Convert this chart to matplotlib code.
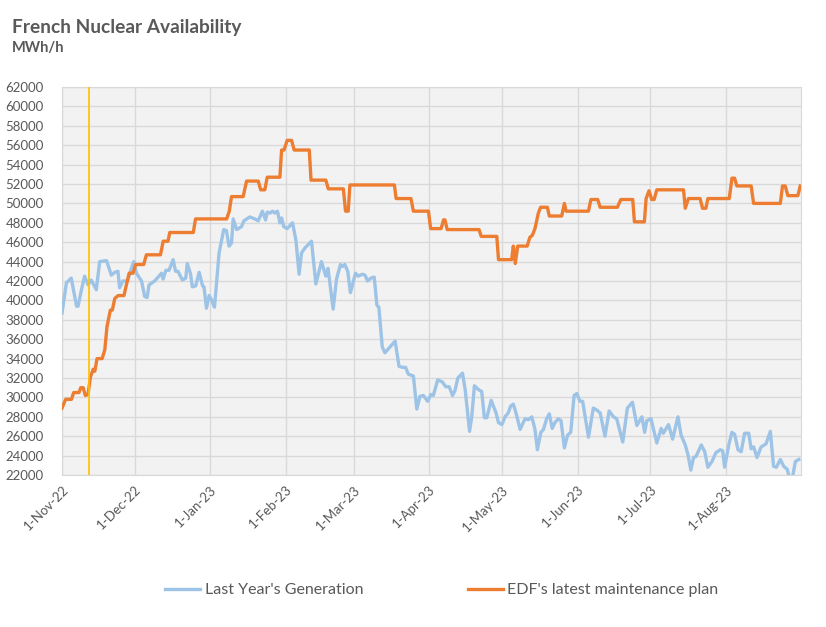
import pandas as pd
import numpy as np
import matplotlib.pyplot as plt
import matplotlib.dates as mdates

# --- datos (dias desde 1-Nov-22, MWh/h) ---
inicio = pd.Timestamp('2022-11-01')

dias_gen = [0, 1.8, 3.8, 6, 6.6, 8, 9.3, 10.7, 12, 14.1, 15.5, 18.3, 20.3, 21.7, 23, 23.7, 25, 27, 27.9,
            29.5, 30.6, 32.7, 34, 35, 35.8, 38.1, 40.2, 40.9, 41.6, 42.7, 44, 45.7, 46.7, 47.7, 49.5, 50.9,
            51.5, 52.8, 53.6, 55, 56.4, 57.8, 58.4, 59.4, 60.5, 61.6, 62.7, 64.6, 66.5, 67.6, 68.7, 69.7,
            70.4, 71.8, 73.8, 74.8, 77.2, 79.3, 80.7, 82.4, 83.7, 84.4, 85.5, 86.6, 87.5, 88.6, 89.6, 90.3,
            91.2, 92.6, 94.8, 96.2, 97.5, 98.5, 99.9, 102.6, 104.4, 106.7, 108.5, 109.4, 111.5, 112.9,
            114.5, 115.4, 116.3, 117.5, 118.6, 120.7, 121.8, 123.5, 124.6, 125.7, 127.0, 128.4, 129.5,
            130.3, 131.7, 132.8, 134.9, 137.0, 138.6, 140, 141.3, 142.4, 144.5, 145.9, 147.2, 148.6,
            150.4, 151.7, 152.7, 154.5, 156.4, 157.8, 159.2, 160.6, 161.6, 162.8, 164.7, 165.8, 167.6,
            168.5, 169.6, 171.3, 172.6, 173.7, 174.7, 176.5, 178.5, 179.5, 180.9, 182.2, 183.5, 184.5,
            185.6, 186.7, 188.4, 190.4, 191.8, 193.2, 194.5, 195.5, 196.9, 198, 199.3, 200.4, 201.6,
            202.7, 204.1, 205.2, 206.6, 207.9, 209.2, 210.6, 211.7, 213.0, 214.1, 216.5, 218.5, 219.9,
            221.3, 223.3, 225, 226.8, 228.1, 230.6, 232.5, 234.6, 236.4, 238.5, 239.6, 240.5, 242.2,
            244.6, 246.4, 247.3, 249.4, 251.1, 253.3, 254.6, 256.3, 257.4, 258.6, 259.7, 260.7, 262.9,
            264.3, 265.6, 267.3, 268.9, 270.7, 271.7, 272.5, 274.2, 275.5, 276.6, 278, 279.3, 280.7,
            282.4, 283.4, 284.4, 285.8, 287.5, 289.5, 291.3, 292.6, 293.8, 295.4, 296.8, 298.2, 299.1,
            300.2, 301.6, 303]
gen = [38700, 41800, 42300, 39400, 39400, 41100, 42500, 41600, 42100, 41100, 44000, 44100, 42600, 42900,
       43000, 41300, 42000, 42000, 42800, 44000, 42800, 42000, 40400, 40300, 41600, 42000, 42600, 42800,
       42200, 43100, 43100, 44200, 43000, 43000, 42100, 42300, 43800, 42800, 41400, 41500, 42900, 41500,
       41400, 39200, 40500, 40000, 39300, 44900, 47300, 47200, 45600, 45900, 48400, 47300, 47600, 48200,
       48600, 48400, 48200, 49200, 48300, 49100, 49000, 49200, 49000, 49200, 48000, 48500, 47600, 47400,
       48000, 46200, 42700, 44900, 45400, 46100, 41700, 44000, 42500, 43300, 39100, 42200, 43700, 43500,
       43700, 43000, 40800, 42800, 42500, 42700, 42600, 42000, 42300, 42400, 39500, 39300, 35200, 34600,
       35200, 35800, 33200, 33100, 33100, 32400, 32200, 28800, 30100, 30200, 29600, 30300, 30200, 31800,
       31600, 31100, 31100, 30200, 30700, 32000, 32500, 30800, 26500, 28000, 31200, 30800, 30600, 27900,
       27900, 29700, 28400, 27400, 27200, 28000, 28400, 29100, 29300, 28400, 26700, 27800, 27700, 28000,
       26700, 24600, 26400, 26700, 27800, 28300, 26800, 27400, 27800, 27600, 24800, 26100, 26400, 30200,
       30400, 29600, 29600, 25900, 28900, 28700, 28400, 26000, 28600, 28000, 27800, 25400, 28900, 29500,
       27100, 28000, 26400, 27600, 27800, 25300, 26800, 26300, 27200, 25700, 28000, 26100, 25100, 24100,
       22500, 23800, 23900, 25100, 24400, 22800, 23400, 24300, 24600, 24500, 22800, 25100, 26400, 26200,
       24600, 24400, 26300, 26300, 24700, 24900, 23800, 24900, 25200, 26500, 22900, 22800, 23600, 22900,
       22600, 21800, 21500, 23400, 23600]

dias_plan = [0, 1.5, 3.9, 4.8, 7.0, 7.7, 8.7, 9.6, 10.7, 11.7, 12.8, 13.5, 14.4, 16.5, 17.6, 18.5, 19.9,
             20.7, 21.7, 23.1, 25.5, 26.2, 27.6, 29.2, 30.3, 33.6, 34.7, 40.5, 41.6, 43.6, 44.3, 54.0,
             54.9, 67.7, 68.8, 69.7, 74.5, 75.9, 80.7, 81.7, 83.4, 84.4, 89.6, 90.3, 91.3, 92.6, 94.4,
             95.5, 101.7, 102.4, 108.5, 109.5, 115.7, 116.6, 117.7, 118.4, 136.7, 137.4, 143.5, 144.5,
             150.7, 151.6, 155.9, 156.9, 157.5, 158.4, 171.5, 172.4, 178.8, 179.5, 184.9, 185.6, 186.4,
             187.4, 191.3, 192.4, 193.4, 194.5, 195.9, 196.8, 199.6, 200.4, 205.5, 206.6, 207.3, 216.5,
             217.5, 220.3, 221.3, 228.4, 229.8, 234.7, 235.4, 239.5, 240.2, 241.4, 242.5, 243.5, 244.6,
             255.6, 256.3, 257.6, 262.4, 263.4, 264.8, 265.6, 274.4, 275.5, 276.6, 277.5, 283.4, 284.4,
             295.4, 296.3, 297.4, 298.5, 302.6, 303.6]
plan = [28900, 29800, 29800, 30500, 30500, 31000, 31000, 30200, 30300, 32100, 32900, 32700, 34000, 34000,
        34900, 37300, 39000, 39000, 40200, 40500, 40500, 41300, 42800, 42800, 43700, 43700, 44700, 44700,
        46100, 46100, 47000, 47000, 48400, 48400, 49200, 50700, 50700, 52300, 52300, 51400, 51400, 52700,
        52700, 55500, 55500, 56500, 56500, 55500, 55500, 52400, 52400, 51500, 51500, 49200, 49200, 51900,
        51900, 50500, 50500, 49200, 49200, 47400, 47400, 48300, 48300, 47300, 47300, 46600, 46600, 44200,
        44200, 45600, 43800, 45600, 45600, 46500, 46700, 47400, 49000, 49600, 49600, 48700, 48700, 50000,
        49200, 49200, 50400, 50400, 49600, 49600, 50400, 50400, 48100, 48100, 50500, 51300, 50400, 50400,
        51400, 51400, 49500, 50500, 50500, 49500, 49500, 50500, 50500, 52600, 52600, 51800, 51800, 50000,
        50000, 51800, 51800, 50800, 50800, 51800]

dia_marca = 11  # linea amarilla (12-Nov-22)
meses = pd.date_range('2022-11-01', '2023-08-01', freq='MS')

fechas_gen = inicio + pd.to_timedelta(dias_gen, unit='D')
fechas_plan = inicio + pd.to_timedelta(dias_plan, unit='D')

gris = '#595959'
plt.rcParams['font.family'] = ['Lato', 'DejaVu Sans']

fig = plt.figure(figsize=(8.26, 6.27), dpi=100)
ax = fig.add_axes([62 / 826, 152 / 627, 739 / 826, 388 / 627])
ax.set_facecolor('#F2F2F2')

ax.plot(fechas_gen, gen, color='#9DC3E6', linewidth=2.4, label="Last Year's Generation",
        solid_joinstyle='round', zorder=3)
ax.plot(fechas_plan, plan, color='#ED7D31', linewidth=2.4, label="EDF's latest maintenance plan",
        solid_joinstyle='round', zorder=4)
ax.axvline(inicio + pd.Timedelta(days=dia_marca), color='#FFC000', linewidth=1.2, zorder=5)

ax.set_xlim(inicio, inicio + pd.Timedelta(days=303.9))
ax.set_ylim(22000, 62000)
ax.set_yticks(np.arange(22000, 62001, 2000))
ax.set_xticks(meses)
ax.xaxis.set_major_formatter(mdates.DateFormatter('%-d-%b-%y'))
ax.grid(True, color='#D9D9D9', linewidth=1)
ax.set_axisbelow(True)
for s in ax.spines.values():
    s.set_color('#D9D9D9')
ax.tick_params(length=0, colors=gris, labelsize=9.5)
ax.tick_params(axis='y', pad=13)
ax.tick_params(axis='x', pad=6)
for lab in ax.get_xticklabels():
    lab.set_rotation(45)
    lab.set_ha('right')
    lab.set_rotation_mode('anchor')

fig.text(12 / 826, 1 - 27 / 627, 'French Nuclear Availability', fontsize=13.8, fontweight='bold',
         color=gris, va='center')
fig.text(12 / 826, 1 - 48 / 627, 'MWh/h', fontsize=10.5, fontweight='bold', color=gris, va='center')

leg = fig.legend(loc='center', bbox_to_anchor=(0.535, 1 - 590 / 627), ncol=2, frameon=False,
                 fontsize=11.5, handlelength=2.2, handletextpad=0.3, columnspacing=6.5)
for t in leg.get_texts():
    t.set_color(gris)

fig.savefig('out.png', dpi=100)
